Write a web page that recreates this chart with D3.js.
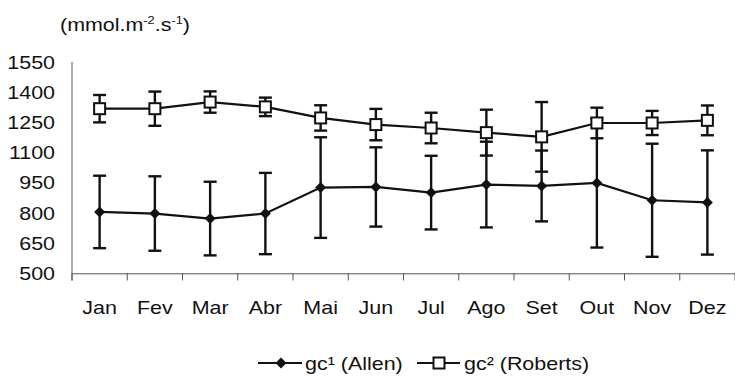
<!DOCTYPE html>
<html><head><meta charset="utf-8">
<script src="https://cdn.jsdelivr.net/npm/d3@7"></script>
<style>
html,body{margin:0;padding:0;background:#fff;}
svg{display:block;}
text{font-family:"Liberation Sans",Arial,sans-serif;fill:#111;}
</style></head>
<body>
<script>
const months = ["Jan","Fev","Mar","Abr","Mai","Jun","Jul","Ago","Set","Out","Nov","Dez"];
const allenMean = [805,797,772,797,926,929,901,941,934,949,863,852];
const allenSD   = [180,185,183,202,250,197,183,213,176,321,281,259];
const robertsMean = [1318,1318,1351,1327,1272,1239,1222,1199,1178,1247,1247,1260];
const robertsSD   = [68,85,53,46,63,78,76,114,173,76,60,74];
const yTicks = [500,650,800,950,1100,1250,1400,1550];
const seriesNames = ["gc\u00b9 (Allen)","gc\u00b2 (Roberts)"];

const W = 735, H = 381;
const FS = 18.5, SX = 1.16;
const svg = d3.select("body").append("svg").attr("width", W).attr("height", H);

const x = d3.scaleBand().domain(months).range([72, 735]);
const y = d3.scaleLinear().domain([500, 1550]).range([273.3, 62]);
const cx = m => x(m) + x.bandwidth() / 2;

function stxt(g, xx, yy, str, anchor) {
  return g.append("text")
    .attr("transform", `translate(${xx},${yy}) scale(${SX},1)`)
    .attr("text-anchor", anchor || "start")
    .style("font-size", FS + "px")
    .text(str);
}

// unit label
const t = svg.append("text")
  .attr("transform", `translate(60,31) scale(${SX},1)`)
  .style("font-size", FS + "px");
t.append("tspan").text("(mmol.m");
t.append("tspan").attr("dy", -7).style("font-size", "11px").text("-2");
t.append("tspan").attr("dy", 7).text(".s");
t.append("tspan").attr("dy", -7).style("font-size", "11px").text("-1");
t.append("tspan").attr("dy", 7).text(")");

// y axis
const yAxis = d3.axisLeft(y).tickValues(yTicks).tickSize(0).tickPadding(0).tickFormat(d3.format("d"));
const gy = svg.append("g").attr("transform", "translate(72,0)").call(yAxis);
gy.select(".domain").remove();
gy.selectAll("text").remove();
yTicks.forEach(v => stxt(svg, 55, y(v) + 6.6, String(v), "end"));
svg.append("line").attr("x1", 72).attr("x2", 72).attr("y1", y(1550)).attr("y2", 280.5)
  .attr("stroke", "#555").attr("stroke-width", 1);

// x axis
const xAxis = d3.axisBottom(x).tickSize(0).tickFormat("");
const gx = svg.append("g").attr("transform", `translate(0,${y(500)})`).call(xAxis);
gx.select(".domain").attr("stroke", "#555").attr("stroke-width", 1);
const bounds = months.map(m => x(m)).concat([x.range()[1]]);
svg.selectAll(".xt").data(bounds).enter().append("line")
  .attr("x1", d => d).attr("x2", d => d).attr("y1", y(500)).attr("y2", 280.5)
  .attr("stroke", "#555").attr("stroke-width", 1);
months.forEach(m => stxt(svg, cx(m), 314, m, "middle"));

// error bars
function errBars(mean, sd) {
  const g = svg.append("g").attr("stroke", "#111").attr("stroke-width", 2.4);
  months.forEach((m, i) => {
    const X = cx(m), hi = y(mean[i] + sd[i]), lo = y(mean[i] - sd[i]);
    g.append("line").attr("x1", X).attr("x2", X).attr("y1", hi).attr("y2", lo);
    g.append("line").attr("x1", X - 6.5).attr("x2", X + 6.5).attr("y1", hi).attr("y2", hi);
    g.append("line").attr("x1", X - 6.5).attr("x2", X + 6.5).attr("y1", lo).attr("y2", lo);
  });
}
errBars(allenMean, allenSD);
errBars(robertsMean, robertsSD);

// lines
const line = d3.line().x((d, i) => cx(months[i])).y(d => y(d));
svg.append("path").datum(allenMean).attr("d", line).attr("fill", "none").attr("stroke", "#111").attr("stroke-width", 2.2);
svg.append("path").datum(robertsMean).attr("d", line).attr("fill", "none").attr("stroke", "#111").attr("stroke-width", 2.2);

// markers
const diamond = d3.symbol().type(d3.symbolSquare).size(60);
function drawDiamond(X, Y) {
  svg.append("path").attr("d", diamond()).attr("transform", `translate(${X},${Y}) rotate(45)`).attr("fill", "#111");
}
function drawSquare(X, Y) {
  svg.append("rect").attr("x", X - 5.5).attr("y", Y - 5.5).attr("width", 11).attr("height", 11)
    .attr("fill", "#fff").attr("stroke", "#111").attr("stroke-width", 2);
}
allenMean.forEach((v, i) => drawDiamond(cx(months[i]), y(v)));
robertsMean.forEach((v, i) => drawSquare(cx(months[i]), y(v)));

// legend
const ly = 363;
svg.append("line").attr("x1", 258).attr("x2", 302).attr("y1", ly).attr("y2", ly).attr("stroke", "#111").attr("stroke-width", 2.2);
drawDiamond(281, ly);
stxt(svg, 305, ly + 6.5, seriesNames[0]);
svg.append("line").attr("x1", 417).attr("x2", 460).attr("y1", ly).attr("y2", ly).attr("stroke", "#111").attr("stroke-width", 2.2);
drawSquare(439, ly);
stxt(svg, 464, ly + 6.5, seriesNames[1]);
</script>
</body></html>
